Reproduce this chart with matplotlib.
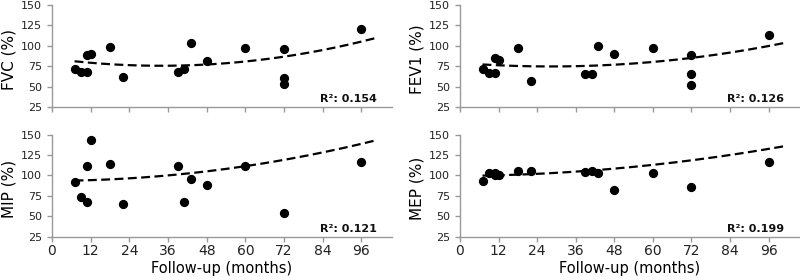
import numpy as np
import matplotlib
matplotlib.use("Agg")
import matplotlib.pyplot as plt

# follow-up time of each patient (months)
months = [7, 9, 11, 11, 12, 18, 22, 39, 41, 43, 48, 60, 72, 72, 72, 96]
fvc = [71, 68, 68, 89, 90, 98, 62, 68, 72, 103, 81, 97, 96, 61, 53, 121]
fev1 = [72, 67, 67, 85, 83, 97, 57, 65, 66, 100, 90, 97, 89, 65, 52, 113]

# respiratory muscle strength, two patients fewer
months_m = [7, 9, 11, 11, 12, 18, 22, 39, 41, 43, 48, 60, 72, 96]
mip = [92, 73, 111, 67, 144, 114, 65, 112, 67, 96, 88, 111, 54, 117]
mep = [93, 103, 103, 101, 101, 106, 105, 104, 105, 103, 82, 103, 86, 116]

# quadratic trend lines as printed (c2, c1, c0)
fit_fvc = [0.00767, -0.519, 84.3]
fit_fev1 = [0.00545, -0.307, 79.0]
fit_mip = [0.00480, 0.0118, 93.4]
fit_mep = [0.00331, 0.0278, 99.4]

panels = [
    ("FVC (%)", months, fvc, fit_fvc, "R²: 0.154"),
    ("FEV1 (%)", months, fev1, fit_fev1, "R²: 0.126"),
    ("MIP (%)", months_m, mip, fit_mip, "R²: 0.121"),
    ("MEP (%)", months_m, mep, fit_mep, "R²: 0.199"),
]

fig = plt.figure(figsize=(8, 2.8), dpi=100)
positions = [
    [0.065, 0.618, 0.425, 0.364],
    [0.575, 0.618, 0.424, 0.364],
    [0.065, 0.155, 0.425, 0.364],
    [0.575, 0.155, 0.424, 0.364],
]

for i, (label, x, y, coef, r2) in enumerate(panels):
    ax = fig.add_axes(positions[i])
    x = np.array(x, dtype=float)
    ax.scatter(x, y, s=32, color="black", zorder=3)

    xs = np.linspace(x.min(), x.max() * 1.05, 200)
    ax.plot(xs, np.polyval(coef, xs), "--", color="black", lw=1.6, dashes=(4, 2))

    ax.set_xlim(0, 105.5)
    ax.set_ylim(25, 150)
    ax.set_xticks(range(0, 97, 12))
    ax.set_yticks(range(25, 151, 25))
    ax.set_ylabel(label, fontsize=11)
    ax.yaxis.set_label_coords(-0.105, 0.47)
    for s in ("top", "right"):
        ax.spines[s].set_visible(False)
    for s in ("left", "bottom"):
        ax.spines[s].set_color("#999999")
        ax.spines[s].set_linewidth(1.0)
    ax.tick_params(axis="both", colors="#999999", length=3.5, width=1.0, labelcolor="#222222")
    ax.tick_params(axis="y", labelsize=8, pad=3.5)
    ax.tick_params(axis="x", labelsize=10, pad=2)
    if i < 2:
        ax.set_xticklabels([])
    else:
        ax.set_xlabel("Follow-up (months)", fontsize=10.5, labelpad=2)

    ax.text(0.956, 0.03, r2, transform=ax.transAxes, ha="right", va="bottom",
            fontsize=8, fontweight="bold", color="#111111")

fig.savefig("out.png", dpi=100, facecolor="white")
